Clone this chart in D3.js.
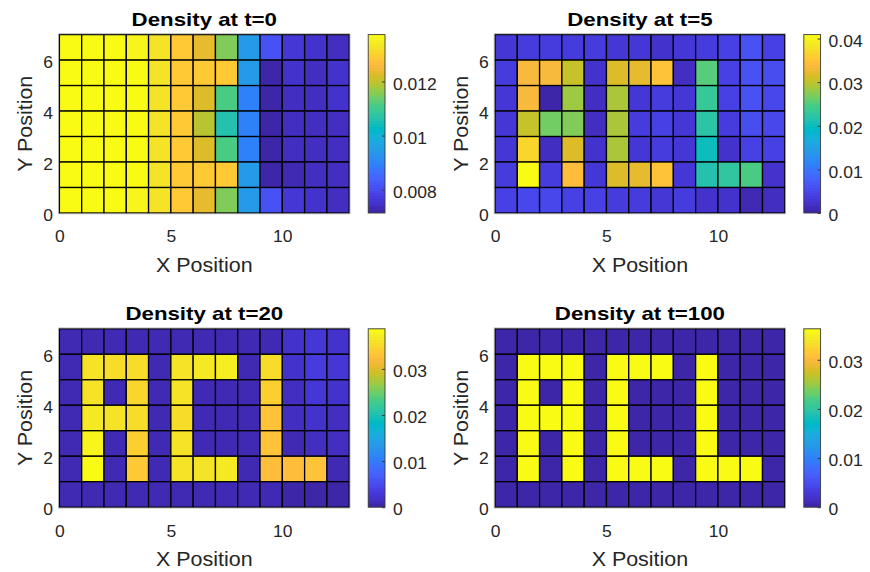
<!DOCTYPE html>
<html>
<head>
<meta charset="utf-8">
<script src="https://cdn.jsdelivr.net/npm/d3@7"></script>
<style>
  body { margin: 0; background: #fff; }
  text { font-family: "Liberation Sans", Arial, Helvetica, sans-serif; }
</style>
</head>
<body>
<svg id="fig" width="870" height="572"></svg>
<script>
// Grid: 13 columns (x = 0..13) by 7 rows (y = 0..7).
// Every density table lists its rows from the top (y = 6..7) down to the bottom (y = 0..1).
const xTicks = [0, 5, 10];
const yTicks = [0, 2, 4, 6];

const titles = ["Density at t=0", "Density at t=5", "Density at t=20", "Density at t=100"];

const densityT0 = [
  [0.01373, 0.01373, 0.01370, 0.01353, 0.01327, 0.01289, 0.01237, 0.01153, 0.00944, 0.00808, 0.00756, 0.00745, 0.00740],
  [0.01373, 0.01373, 0.01373, 0.01373, 0.01327, 0.01289, 0.01282, 0.01289, 0.00944, 0.00724, 0.00745, 0.00740, 0.00745],
  [0.01373, 0.01373, 0.01373, 0.01373, 0.01327, 0.01289, 0.01221, 0.01106, 0.00892, 0.00720, 0.00740, 0.00740, 0.00745],
  [0.01373, 0.01373, 0.01373, 0.01373, 0.01327, 0.01289, 0.01190, 0.01059, 0.00892, 0.00720, 0.00735, 0.00740, 0.00740],
  [0.01373, 0.01373, 0.01373, 0.01373, 0.01327, 0.01289, 0.01221, 0.01106, 0.00892, 0.00720, 0.00735, 0.00740, 0.00740],
  [0.01373, 0.01373, 0.01373, 0.01373, 0.01327, 0.01289, 0.01282, 0.01289, 0.00944, 0.00714, 0.00730, 0.00735, 0.00740],
  [0.01373, 0.01373, 0.01370, 0.01353, 0.01327, 0.01289, 0.01237, 0.01153, 0.00944, 0.00808, 0.00756, 0.00745, 0.00740]
];

const densityT5 = [
  [0.0030, 0.0036, 0.0032, 0.0033, 0.0036, 0.0030, 0.0026, 0.0024, 0.0030, 0.0033, 0.0042, 0.0058, 0.0042],
  [0.0035, 0.0333, 0.0338, 0.0305, 0.0020, 0.0318, 0.0325, 0.0348, 0.0015, 0.0253, 0.0042, 0.0062, 0.0055],
  [0.0028, 0.0335, 0.0000, 0.0286, 0.0015, 0.0289, 0.0028, 0.0033, 0.0028, 0.0234, 0.0040, 0.0058, 0.0048],
  [0.0028, 0.0305, 0.0263, 0.0270, 0.0015, 0.0289, 0.0033, 0.0040, 0.0028, 0.0221, 0.0035, 0.0052, 0.0045],
  [0.0028, 0.0370, 0.0013, 0.0315, 0.0020, 0.0289, 0.0028, 0.0033, 0.0028, 0.0201, 0.0020, 0.0040, 0.0040],
  [0.0033, 0.0409, 0.0033, 0.0344, 0.0026, 0.0318, 0.0325, 0.0347, 0.0026, 0.0217, 0.0224, 0.0243, 0.0020],
  [0.0040, 0.0046, 0.0046, 0.0042, 0.0042, 0.0035, 0.0035, 0.0030, 0.0033, 0.0020, 0.0020, 0.0012, 0.0015]
];

const densityT20 = [
  [0.0012, 0.0012, 0.0012, 0.0012, 0.0012, 0.0012, 0.0012, 0.0012, 0.0012, 0.0012, 0.0022, 0.0028, 0.0022],
  [0.0012, 0.0360, 0.0353, 0.0356, 0.0012, 0.0362, 0.0366, 0.0369, 0.0010, 0.0353, 0.0020, 0.0035, 0.0025],
  [0.0012, 0.0360, 0.0010, 0.0350, 0.0010, 0.0362, 0.0010, 0.0010, 0.0010, 0.0344, 0.0018, 0.0025, 0.0022],
  [0.0012, 0.0364, 0.0360, 0.0356, 0.0010, 0.0356, 0.0010, 0.0010, 0.0010, 0.0332, 0.0015, 0.0020, 0.0018],
  [0.0012, 0.0378, 0.0010, 0.0344, 0.0010, 0.0357, 0.0010, 0.0010, 0.0010, 0.0329, 0.0012, 0.0015, 0.0015],
  [0.0012, 0.0387, 0.0010, 0.0338, 0.0010, 0.0360, 0.0362, 0.0366, 0.0010, 0.0326, 0.0326, 0.0329, 0.0008],
  [0.0008, 0.0008, 0.0008, 0.0008, 0.0008, 0.0008, 0.0008, 0.0008, 0.0008, 0.0008, 0.0005, 0.0002, 0.0000]
];

const densityT100 = [
  [0.0004, 0.0004, 0.0004, 0.0004, 0.0004, 0.0004, 0.0004, 0.0004, 0.0004, 0.0004, 0.0004, 0.0004, 0.0004],
  [0.0004, 0.0363, 0.0363, 0.0363, 0.0004, 0.0363, 0.0363, 0.0363, 0.0004, 0.0363, 0.0004, 0.0004, 0.0004],
  [0.0004, 0.0363, 0.0004, 0.0363, 0.0004, 0.0363, 0.0004, 0.0004, 0.0004, 0.0363, 0.0004, 0.0004, 0.0004],
  [0.0004, 0.0363, 0.0363, 0.0363, 0.0004, 0.0363, 0.0004, 0.0004, 0.0004, 0.0363, 0.0004, 0.0004, 0.0004],
  [0.0004, 0.0363, 0.0004, 0.0363, 0.0004, 0.0363, 0.0004, 0.0004, 0.0004, 0.0363, 0.0004, 0.0004, 0.0004],
  [0.0004, 0.0363, 0.0004, 0.0363, 0.0004, 0.0363, 0.0363, 0.0363, 0.0004, 0.0363, 0.0363, 0.0363, 0.0004],
  [0.0004, 0.0004, 0.0004, 0.0004, 0.0004, 0.0004, 0.0004, 0.0004, 0.0004, 0.0004, 0.0004, 0.0004, 0.0000]
];

const cbarTicksT0 = [0.008, 0.01, 0.012];
const cbarLabelsT0 = ["0.008", "0.01", "0.012"];
const cbarTicksT5 = [0, 0.01, 0.02, 0.03, 0.04];
const cbarLabelsT5 = ["0", "0.01", "0.02", "0.03", "0.04"];
const cbarTicksT20 = [0, 0.01, 0.02, 0.03];
const cbarLabelsT20 = ["0", "0.01", "0.02", "0.03"];
const cbarTicksT100 = [0, 0.01, 0.02, 0.03];
const cbarLabelsT100 = ["0", "0.01", "0.02", "0.03"];

// 64-step parula colormap
const parula = [
  [0.2422,0.1504,0.6603],[0.2504,0.1650,0.7076],[0.2578,0.1818,0.7511],[0.2647,0.1978,0.7952],
  [0.2706,0.2147,0.8364],[0.2751,0.2342,0.8710],[0.2783,0.2559,0.8991],[0.2803,0.2782,0.9221],
  [0.2813,0.3006,0.9414],[0.2810,0.3228,0.9579],[0.2795,0.3447,0.9717],[0.2760,0.3667,0.9829],
  [0.2699,0.3892,0.9906],[0.2602,0.4123,0.9952],[0.2440,0.4358,0.9988],[0.2206,0.4603,0.9973],
  [0.1963,0.4847,0.9892],[0.1834,0.5074,0.9798],[0.1786,0.5289,0.9682],[0.1764,0.5499,0.9520],
  [0.1687,0.5703,0.9359],[0.1540,0.5902,0.9218],[0.1460,0.6091,0.9079],[0.1380,0.6276,0.8973],
  [0.1248,0.6459,0.8883],[0.1113,0.6635,0.8763],[0.0952,0.6798,0.8598],[0.0689,0.6948,0.8394],
  [0.0297,0.7082,0.8163],[0.0036,0.7203,0.7917],[0.0067,0.7312,0.7660],[0.0433,0.7411,0.7394],
  [0.0964,0.7500,0.7120],[0.1408,0.7584,0.6842],[0.1717,0.7670,0.6554],[0.1938,0.7758,0.6251],
  [0.2161,0.7843,0.5923],[0.2470,0.7918,0.5567],[0.2906,0.7973,0.5188],[0.3406,0.8008,0.4789],
  [0.3909,0.8029,0.4354],[0.4456,0.8024,0.3909],[0.5044,0.7993,0.3480],[0.5616,0.7942,0.3045],
  [0.6174,0.7876,0.2612],[0.6720,0.7793,0.2227],[0.7242,0.7698,0.1910],[0.7738,0.7598,0.1646],
  [0.8203,0.7498,0.1535],[0.8634,0.7406,0.1596],[0.9035,0.7330,0.1774],[0.9393,0.7288,0.2100],
  [0.9728,0.7298,0.2394],[0.9956,0.7434,0.2371],[0.9970,0.7659,0.2199],[0.9952,0.7893,0.2028],
  [0.9892,0.8136,0.1885],[0.9786,0.8386,0.1766],[0.9676,0.8639,0.1643],[0.9610,0.8890,0.1537],
  [0.9597,0.9135,0.1423],[0.9628,0.9373,0.1265],[0.9691,0.9606,0.1064],[0.9769,0.9839,0.0805]
].map(c => d3.rgb(c[0] * 255, c[1] * 255, c[2] * 255).formatHex());

// Panel placement on the figure
const panels = [
  { title: titles[0], data: densityT0,   ticks: cbarTicksT0,   labels: cbarLabelsT0,   left: 59.4,  top: 34.6 },
  { title: titles[1], data: densityT5,   ticks: cbarTicksT5,   labels: cbarLabelsT5,   left: 495.0, top: 34.6 },
  { title: titles[2], data: densityT20,  ticks: cbarTicksT20,  labels: cbarLabelsT20,  left: 59.4,  top: 328.8 },
  { title: titles[3], data: densityT100, ticks: cbarTicksT100, labels: cbarLabelsT100, left: 495.0, top: 328.8 }
];
const plotW = 289.8, plotH = 178.4;
const nCols = 13, nRows = 7;
const textColor = "#262626";
const tickFont = 17, labelFont = 19.5, titleFont = 19.2;
const tickStretch = 1.03, labelStretch = 1.1, titleStretch = 1.16;

const svg = d3.select("#fig");
const defs = svg.append("defs");

panels.forEach((p, i) => {
  const g = svg.append("g");
  const x = d3.scaleLinear().domain([0, nCols]).range([p.left, p.left + plotW]);
  const y = d3.scaleLinear().domain([0, nRows]).range([p.top + plotH, p.top]);
  const values = p.data.flat();
  const extent = d3.extent(values);
  const color = d3.scaleQuantize().domain(extent).range(parula);

  // cells
  const cells = [];
  p.data.forEach((row, r) => row.forEach((v, c) => cells.push({ c, j: nRows - 1 - r, v })));
  g.append("g").selectAll("rect").data(cells).join("rect")
    .attr("x", d => x(d.c))
    .attr("y", d => y(d.j + 1))
    .attr("width", d => x(d.c + 1) - x(d.c))
    .attr("height", d => y(d.j) - y(d.j + 1))
    .attr("fill", d => color(d.v))
    .attr("stroke", "#000")
    .attr("stroke-width", 1.3);

  // axes frame
  g.append("rect")
    .attr("x", x(0) - 0.8).attr("y", y(nRows) - 0.8)
    .attr("width", x(nCols) - x(0) + 1.6).attr("height", y(0) - y(nRows) + 1.6)
    .attr("fill", "none").attr("stroke", "#a8a8a8").attr("stroke-width", 0.8);

  // x axis
  const xAxis = g.append("g")
    .attr("transform", `translate(0,${y(0)})`)
    .call(d3.axisBottom(x).tickValues(xTicks).tickSize(0).tickPadding(0).tickFormat(d3.format("d")));
  xAxis.select(".domain").remove();
  xAxis.selectAll("text")
    .attr("y", 29.5).attr("dy", null)
    .attr("fill", textColor)
    .style("font-size", tickFont + "px")
    .attr("transform", `scale(${tickStretch},1)`);

  // y axis
  const yAxis = g.append("g")
    .attr("transform", `translate(${x(0)},0)`)
    .call(d3.axisLeft(y).tickValues(yTicks).tickSize(0).tickPadding(0).tickFormat(d3.format("d")));
  yAxis.select(".domain").remove();
  yAxis.selectAll("text")
    .attr("x", -6.3 / tickStretch).attr("dy", "0.43em")
    .attr("fill", textColor)
    .style("font-size", tickFont + "px")
    .attr("transform", `scale(${tickStretch},1)`);

  // axis labels and title
  const cx = (x(0) + x(nCols)) / 2;
  g.append("text")
    .attr("transform", `translate(${cx},${y(0) + 59}) scale(${labelStretch},1)`)
    .attr("text-anchor", "middle").attr("fill", textColor)
    .style("font-size", labelFont + "px").text("X Position");
  g.append("text")
    .attr("transform", `translate(${x(0) - 27},${(y(0) + y(nRows)) / 2}) rotate(-90) scale(${labelStretch},1)`)
    .attr("text-anchor", "middle").attr("fill", textColor)
    .style("font-size", labelFont + "px").text("Y Position");
  g.append("text")
    .attr("transform", `translate(${cx},${y(nRows) - 8.5}) scale(${titleStretch},1)`)
    .attr("text-anchor", "middle").attr("fill", "#000")
    .style("font-size", titleFont + "px").style("font-weight", "bold").text(p.title);

  // colorbar
  const cbX = x(nCols) + 19, cbW = 16.8;
  const cbScale = d3.scaleLinear().domain(extent).range([y(0), y(nRows)]);
  const gradId = "parula-grad-" + i;
  const grad = defs.append("linearGradient").attr("id", gradId)
    .attr("x1", 0).attr("y1", 1).attr("x2", 0).attr("y2", 0);
  parula.forEach((c, k) => {
    grad.append("stop").attr("offset", k / parula.length).attr("stop-color", c);
    grad.append("stop").attr("offset", (k + 1) / parula.length).attr("stop-color", c);
  });
  g.append("rect")
    .attr("x", cbX).attr("y", y(nRows))
    .attr("width", cbW).attr("height", y(0) - y(nRows))
    .attr("fill", `url(#${gradId})`)
    .attr("stroke", "#3a3a3a").attr("stroke-width", 0.9);

  const cbAxis = g.append("g")
    .attr("transform", `translate(${cbX + cbW},0)`)
    .call(d3.axisRight(cbScale).tickValues(p.ticks).tickSize(-3).tickPadding(0)
      .tickFormat((d, k) => p.labels[k]));
  cbAxis.select(".domain").remove();
  cbAxis.selectAll("line").attr("stroke", "#3a3a3a");
  cbAxis.selectAll("text")
    .attr("x", 8 / tickStretch).attr("dy", "0.45em")
    .attr("fill", textColor)
    .style("font-size", tickFont + "px")
    .attr("transform", `scale(${tickStretch},1)`);
});
</script>
</body>
</html>
